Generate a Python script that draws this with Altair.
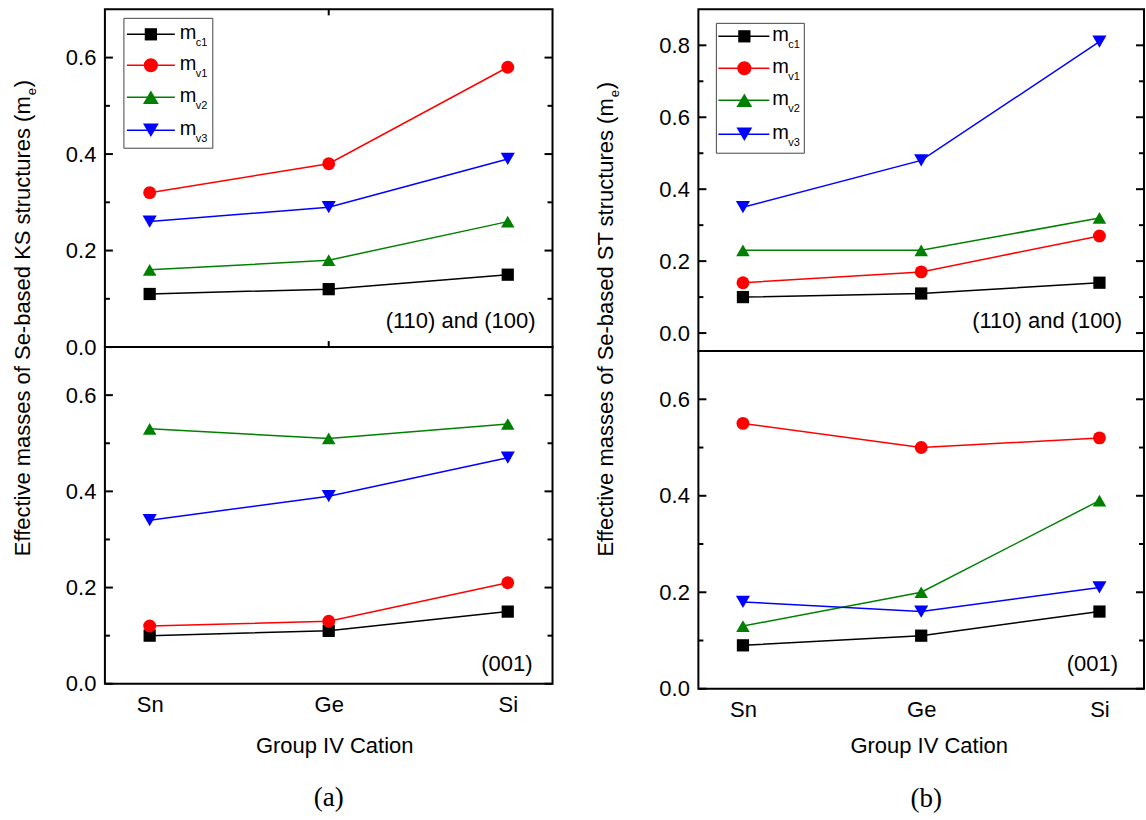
import altair as alt
import pandas as pd

FONT = "Liberation Sans"
SERIF = "Liberation Serif"

# ---------------- data ----------------
cations = ["Sn", "Ge", "Si"]
series = ["mc1", "mv1", "mv2", "mv3"]
series_subs = ["c1", "v1", "v2", "v3"]
series_colors = ["#000000", "#ff0000", "#008000", "#0000ff"]
series_shapes = ["square", "circle", "triangle-up", "triangle-down"]
series_sizes = [150, 200, 250, 250]

# (a) KS structures, (110) and (100)
ks_top_mc1 = [0.11, 0.12, 0.15]
ks_top_mv1 = [0.32, 0.38, 0.58]
ks_top_mv2 = [0.16, 0.18, 0.26]
ks_top_mv3 = [0.26, 0.29, 0.39]
# (a) KS structures, (001)
ks_bot_mc1 = [0.10, 0.11, 0.15]
ks_bot_mv1 = [0.12, 0.13, 0.21]
ks_bot_mv2 = [0.53, 0.51, 0.54]
ks_bot_mv3 = [0.34, 0.39, 0.47]
# (b) ST structures, (110) and (100)
st_top_mc1 = [0.10, 0.11, 0.14]
st_top_mv1 = [0.14, 0.17, 0.27]
st_top_mv2 = [0.23, 0.23, 0.32]
st_top_mv3 = [0.35, 0.48, 0.81]
# (b) ST structures, (001)
st_bot_mc1 = [0.09, 0.11, 0.16]
st_bot_mv1 = [0.55, 0.50, 0.52]
st_bot_mv2 = [0.13, 0.20, 0.39]
st_bot_mv3 = [0.18, 0.16, 0.21]

major_07 = [0.0, 0.2, 0.4, 0.6]
minor_07 = [0.1, 0.3, 0.5]
major_09 = [0.0, 0.2, 0.4, 0.6, 0.8]
minor_09 = [0.1, 0.3, 0.5, 0.7]

note_top = "(110) and (100)"
note_bot = "(001)"
x_title = "Group IV Cation"
ytitle_a = "Effective masses of Se-based KS structures (m"
ytitle_b = "Effective masses of Se-based ST structures (m"


def make_df(cols):
    rows = []
    for s, vals in zip(series, cols):
        for i, (c, v) in enumerate(zip(cations, vals)):
            rows.append({"series": s, "cation": c, "idx": i, "value": v})
    return pd.DataFrame(rows)


df_ks_top = make_df([ks_top_mc1, ks_top_mv1, ks_top_mv2, ks_top_mv3])
df_ks_bot = make_df([ks_bot_mc1, ks_bot_mv1, ks_bot_mv2, ks_bot_mv3])
df_st_top = make_df([st_top_mc1, st_top_mv1, st_top_mv2, st_top_mv3])
df_st_bot = make_df([st_bot_mc1, st_bot_mv1, st_bot_mv2, st_bot_mv3])

cscale = alt.Scale(domain=series, range=series_colors)
shscale = alt.Scale(domain=series, range=series_shapes)
szscale = alt.Scale(domain=series, range=series_sizes)


def one(text):
    return pd.DataFrame({"t": [text]})


def text_layer(text, x, y, size=22, font=FONT, align="center", baseline="middle", angle=0):
    kw = dict(fontSize=size, font=font, align=align, baseline=baseline, color="black")
    if angle:
        kw["angle"] = angle
    return alt.Chart(one(text)).mark_text(**kw).encode(
        text="t:N", x=alt.value(x), y=alt.value(y)
    )


def panel(df, W, H, ydom, major, minor, show_x, ge_ticks, extras):
    xs = alt.Scale(type="point", domain=cations, padding=0.25)
    ys = alt.Scale(domain=ydom, nice=False, zero=False)
    if show_x:
        xaxis = alt.Axis(labelFontSize=22, labelFont=FONT, labelColor="black",
                         labelPadding=11, ticks=False, tickSize=0, domain=False,
                         grid=False, title=None, labelAngle=0)
    else:
        xaxis = None
    yaxis = alt.Axis(values=major, format=".1f", labelFontSize=22, labelFont=FONT,
                     labelColor="black", labelPadding=9, ticks=False, tickSize=0,
                     domain=False, grid=False, title=None)
    X = alt.X("cation:O", scale=xs, axis=xaxis, sort=cations)

    def Y(field):
        return alt.Y(field, scale=ys, axis=yaxis)

    lines = alt.Chart(df).mark_line(strokeWidth=1.5).encode(
        x=X,
        y=Y("value:Q"),
        color=alt.Color("series:N", scale=cscale, legend=None),
        order=alt.Order("idx:Q"),
    )
    points = alt.Chart(df).mark_point(filled=True, opacity=1).encode(
        x=X,
        y=Y("value:Q"),
        color=alt.Color("series:N", scale=cscale, legend=None),
        shape=alt.Shape("series:N", scale=shscale, legend=None),
        size=alt.Size("series:O", scale=szscale, legend=None),
    )
    layers = [lines, points]
    for vals, ln in ((major, 8), (minor, 5)):
        d = pd.DataFrame({"value": vals})
        layers.append(alt.Chart(d).mark_rule(color="black", strokeWidth=2).encode(
            y=Y("value:Q"), x=alt.value(0), x2=alt.value(ln)))
        layers.append(alt.Chart(d).mark_rule(color="black", strokeWidth=2).encode(
            y=Y("value:Q"), x=alt.value(W), x2=alt.value(W - ln)))
    if ge_ticks:
        g = pd.DataFrame({"cation": ["Ge"]})
        layers.append(alt.Chart(g).mark_rule(color="black", strokeWidth=2).encode(
            x=X, y=alt.value(0), y2=alt.value(6)))
        layers.append(alt.Chart(g).mark_rule(color="black", strokeWidth=2).encode(
            x=X, y=alt.value(H), y2=alt.value(H - 6)))
    layers += extras
    return alt.layer(*layers).properties(width=W, height=H)


def legend_layers(box, line_x, mark_x, text_x, sub_x, ys):
    out = [alt.Chart(one("box")).mark_rect(fill="white", stroke="#444444", strokeWidth=1).encode(
        x=alt.value(box[0]), x2=alt.value(box[1]), y=alt.value(box[2]), y2=alt.value(box[3]))]
    for s, sub, col, shp, sz, yc in zip(series, series_subs, series_colors, series_shapes,
                                        series_sizes, ys):
        out.append(alt.Chart(one(s)).mark_rule(color=col, strokeWidth=1.5).encode(
            x=alt.value(line_x[0]), x2=alt.value(line_x[1]), y=alt.value(yc)))
        out.append(alt.Chart(one(s)).mark_point(filled=True, opacity=1, color=col, shape=shp,
                                                size=sz).encode(
            x=alt.value(mark_x), y=alt.value(yc)))
        out.append(text_layer("m", text_x, yc + 5, size=20, align="left", baseline="alphabetic"))
        out.append(text_layer(sub, sub_x, yc + 12, size=11, align="left", baseline="alphabetic"))
    return out


def ytitle_layers(text, xb, yend):
    return [
        text_layer(text, xb, yend, size=22, align="right", baseline="alphabetic", angle=270),
        text_layer("e", xb + 6, yend - 1, size=13, align="left", baseline="alphabetic", angle=270),
        text_layer(")", xb, yend - 9, size=22, align="left", baseline="alphabetic", angle=270),
    ]


# ---------------- panel (a) ----------------
Wa, Ha_top, Ha_bot = 448, 338, 337
a_top = panel(
    df_ks_top, Wa, Ha_top, [0, 0.7], major_07, minor_07, False, True,
    legend_layers((19, 108, 9, 139), (22, 70), 46, 75, 91, [25, 56, 88, 121])
    + [text_layer(note_top, 431, 312, align="right")]
    + ytitle_layers(ytitle_a, -75, 87),
)
a_bot = panel(
    df_ks_bot, Wa, Ha_bot, [0, 0.7], major_07, minor_07, True, False,
    [text_layer(note_bot, 428, 317, align="right"),
     text_layer(x_title, Wa / 2 + 6, 399),
     text_layer("(a)", Wa / 2, 451, size=27, font=SERIF)],
)

# ---------------- panel (b) ----------------
Wb, Hb_top, Hb_bot = 446, 342, 338
b_top = panel(
    df_st_top, Wb, Hb_top, [-0.05, 0.9], major_09, minor_09, False, False,
    legend_layers((18, 106, 14, 144), (20, 71), 46, 74, 90, [27, 59, 91, 125])
    + [text_layer(note_top, 424, 312, align="right")]
    + ytitle_layers(ytitle_b, -85, 89),
)
b_bot = panel(
    df_st_bot, Wb, Hb_bot, [0, 0.7], major_07, minor_07, True, False,
    [text_layer(note_bot, 420, 313, align="right"),
     text_layer(x_title, Wb / 2 + 8, 395),
     text_layer("(b)", Wb / 2 + 5, 448, size=27, font=SERIF)],
)

col_a = alt.vconcat(a_top, a_bot, spacing=0, bounds="flush")
col_b = alt.vconcat(b_top, b_bot, spacing=0, bounds="flush")

chart = alt.hconcat(col_a, col_b, spacing=40, bounds="full").properties(
    padding={"left": 11, "top": 7, "right": 0, "bottom": 0},
    background="white",
).configure_view(stroke="black", strokeWidth=2)

chart.save("out.html", embed_options={"renderer": "svg", "actions": False})
